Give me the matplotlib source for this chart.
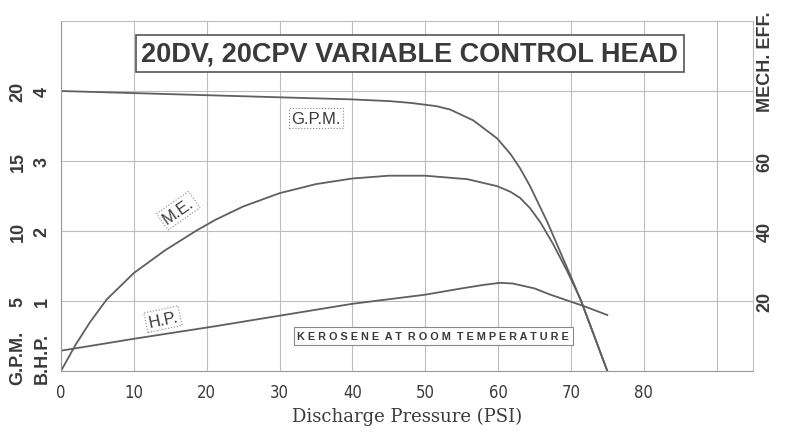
import matplotlib
matplotlib.use("Agg")
import matplotlib.pyplot as plt
import matplotlib.transforms as mtransforms

# pressure (PSI) / reading pairs
psi_gpm = [0, 10, 20, 30, 40, 45, 48, 51.5, 53.4, 56.6, 59.9, 61.7, 63, 64.4, 66.8, 70.2, 71.7, 75]
gpm = [20.0, 19.85, 19.7, 19.55, 19.4, 19.28, 19.15, 18.92, 18.68, 17.9, 16.6, 15.5, 14.5, 13.2, 10.6, 6.5, 4.6, 0.0]

psi_me = [0, 2, 4, 6.3, 10, 14.3, 18.5, 21.2, 25, 30, 35, 40, 45, 50, 55.8, 59.9,
          61.7, 63, 64.4, 65.8, 67.5, 69.5, 71.3, 75]
mech_eff = [0, 7.5, 14, 20.5, 28, 34.5, 40, 43.2, 47, 50.8, 53.4, 55.0, 55.8, 55.8, 54.8, 52.8,
            51.2, 49.5, 46.5, 42.5, 36.5, 28.5, 20.6, 0]

psi_hp = [0, 10, 21.2, 30, 40, 50, 55, 58, 60.3, 62, 65, 67.2, 70, 71.7, 75]
bhp = [0.29, 0.46, 0.64, 0.79, 0.96, 1.09, 1.18, 1.23, 1.26, 1.25, 1.18, 1.09, 0.99, 0.93, 0.8]

x_ticks = [0, 10, 20, 30, 40, 50, 60, 70, 80]
x_grid = [0, 10, 20, 30, 40, 50, 60, 70, 80, 90]
hp_ticks = [1, 2, 3, 4]
gpm_ticks = [5, 10, 15, 20]
me_ticks = [20, 40, 60]

GRID = "#bdbdbd"
INK = "#5f5f5f"
TXT = "#3a3a3a"

fig = plt.figure(figsize=(7.86, 4.39), dpi=100)
ax = fig.add_axes([61/786, 1 - 372/439, (753 - 61)/786, (372 - 22)/439])
ax.set_xlim(0, 95)
ax.set_ylim(0, 5)

for x in x_grid:
    ax.axvline(x, color=GRID, lw=0.8, zorder=0)
for y in hp_ticks:
    ax.axhline(y, color=GRID, lw=0.8, zorder=0)
for s in ax.spines.values():
    s.set_color(GRID)
    s.set_linewidth(0.8)
ax.spines["left"].set_color("#999999")
ax.spines["bottom"].set_color("#999999")

# all curves drawn on the HP scale: GPM/5 and ME/20 share the grid
line = dict(color=INK, lw=1.3, solid_joinstyle="round")
ax.plot(psi_gpm, [g / 5 for g in gpm], **line)
ax.plot(psi_me, [m / 20 for m in mech_eff], **line)
ax.plot(psi_hp, bhp, **line)

ax.set_yticks([])
ax.set_xticks(x_ticks)
ax.set_xticklabels([str(v) for v in x_ticks], family="DejaVu Sans", fontsize=12,
                   color=TXT, fontstretch="condensed")
ax.tick_params(axis="x", length=0, pad=9)
ax.set_xlabel("Discharge Pressure (PSI)", family="DejaVu Serif", fontsize=13,
              color=TXT, labelpad=4)

ytr = mtransforms.blended_transform_factory(fig.transFigure, ax.transData)
lab = dict(rotation=90, ha="center", va="center", fontsize=13, color=TXT,
           family="Liberation Sans", fontweight="bold")
for g in gpm_ticks:
    fig.text(18/786, g / 5, str(g), transform=ytr, **lab)
for h in hp_ticks:
    fig.text(42/786, h, str(h), transform=ytr, **lab)
fig.text(18/786, 1 - 358/439, "G.P.M.", **lab)
fig.text(42/786, 1 - 358/439, "B.H.P.", **lab)
for m in me_ticks:
    fig.text(765/786, m / 20, str(m), transform=ytr, **lab)
fig.text(765/786, 1 - 62/439, "MECH. EFF.", **lab)

ax.text(47.9, 4.53, "20DV, 20CPV VARIABLE CONTROL HEAD", ha="center", va="center",
        fontsize=19.5, fontweight="bold", family="Liberation Sans", color=TXT,
        bbox=dict(boxstyle="square,pad=0.2", fc="white", ec="#555555", lw=1.2))

dotted = dict(boxstyle="square,pad=0.15", fc="white", ec="#888888", lw=0.8, ls=":")
ax.text(35.0, 3.61, "G.P.M.", ha="center", va="center", fontsize=12,
        family="Liberation Sans", color=TXT, bbox=dotted)
ax.text(16.1, 2.29, "M.E.", ha="center", va="center", fontsize=12, rotation=35,
        family="Liberation Sans", color=TXT, bbox=dotted)
ax.text(14.0, 0.74, "H.P.", ha="center", va="center", fontsize=12, rotation=12,
        family="Liberation Sans", color=TXT, bbox=dotted)
ax.text(51.1, 0.5, "K E R O S E N E   A T   R O O M   T E M P E R A T U R E".replace("   ", "  "),
        ha="center", va="center", fontsize=7.8, family="Liberation Sans", color=TXT,
        fontweight="bold",
        bbox=dict(boxstyle="square,pad=0.35", fc="white", ec="#888888", lw=0.8))

fig.savefig("out.png", dpi=100)
